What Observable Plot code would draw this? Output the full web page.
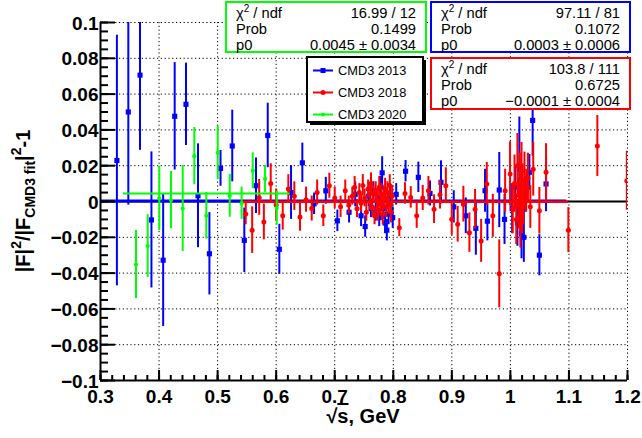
<!DOCTYPE html>
<html><head><meta charset="utf-8">
<script src="https://cdn.jsdelivr.net/npm/d3@7"></script>
<script src="https://cdn.jsdelivr.net/npm/@observablehq/plot@0.6"></script>
<style>body{margin:0;background:#fff;} svg{display:block}</style>
</head><body><div id="chart"></div>
<script>
// ---------------- data ----------------
const seriesNames = ["CMD3 2013", "CMD3 2018", "CMD3 2020"];
const seriesColors = ["#0000ff", "#ff0000", "#00ff00"];

const blueX = [0.328,0.3475,0.3675,0.387,0.407,0.4267,0.446,0.4665,0.486,0.505,0.525,0.5456,0.5656,0.5856,0.6054,0.6254,0.6447,0.6647,0.6848,0.7045,0.7245,
  0.735,0.745,0.752,0.758,0.762,0.766,0.770,0.773,0.776,0.779,0.781,0.783,0.786,0.789,0.792,0.795,0.799,0.805,
  0.821,0.8428,0.8627,0.8815,0.9033,0.9238,0.941,0.9567,0.9607,0.981,0.990,
  1.003,1.008,1.012,1.0153,1.017,1.019,1.021,1.023,1.025,1.0324,1.038,1.0495,1.0609];
const blueY = [0.0229,0.050,0.0706,-0.0103,-0.0328,0.0476,0.0543,0.0032,-0.0292,0.0185,0.031,-0.0217,0.0088,0.0369,-0.0267,0.005,0.0216,-0.0013,0.006,-0.0108,-0.006,
  0.004,-0.008,-0.014,0.003,-0.004,0.006,-0.006,0.002,-0.009,0.008,0.016,-0.004,-0.012,-0.016,-0.007,0.003,-0.009,0.004,
  0.0169,0.0135,0.0045,0.0107,-0.003,-0.008,-0.015,0.006,-0.011,0.0064,-0.010,
  -0.004,0.008,-0.012,0.0182,-0.006,-0.018,0.002,-0.020,0.004,0.0163,0.0453,-0.030,0.0098];
const blueErr = [0.070,0.052,0.042,0.038,0.037,0.030,0.023,0.029,0.023,0.010,0.020,0.018,0.0155,0.018,0.014,0.015,0.011,0.006,0.0075,0.006,0.006,
  0.007,0.006,0.006,0.006,0.005,0.005,0.005,0.005,0.005,0.006,0.009,0.006,0.006,0.006,0.006,0.006,0.006,0.006,
  0.006,0.0085,0.007,0.012,0.009,0.010,0.015,0.012,0.011,0.021,0.014,
  0.014,0.012,0.013,0.029,0.012,0.014,0.010,0.014,0.010,0.010,0.020,0.0115,0.0155];

const redX = [0.548,0.559,0.571,0.579,0.5907,0.600,0.6112,0.6208,0.631,0.6407,0.651,0.6607,0.670,0.6805,0.6908,0.700,0.710,0.718,0.724,0.730,
  0.734,0.738,0.742,0.745,0.748,0.751,0.754,0.757,0.760,0.762,0.764,0.766,0.768,0.770,0.772,0.774,0.776,0.778,0.780,0.782,0.784,0.786,0.788,0.790,0.792,0.794,0.796,0.798,
  0.8103,0.820,0.8298,0.840,0.8503,0.860,0.8696,0.8798,0.8898,0.8998,0.910,0.9197,0.930,0.9397,0.950,0.9597,0.970,0.981,0.991,0.9994,
  1.004,1.007,1.010,1.012,1.014,1.016,1.017,1.018,1.019,1.020,1.021,1.022,1.024,1.027,1.030,1.034,1.039,1.0495,1.0609,1.099,1.1485,1.1988];
const redY = [-0.007,-0.016,0.0023,-0.0114,0.0101,-0.002,-0.008,0.007,0.003,-0.0086,0.001,-0.0039,0.005,-0.008,0.0088,0.002,-0.003,0.006,-0.002,0.003,
  0.008,-0.004,0.005,-0.001,0.009,0.002,-0.006,0.007,0.000,0.010,-0.003,0.004,-0.008,0.006,0.001,-0.005,0.008,-0.002,0.004,-0.007,0.002,0.007,-0.003,0.005,-0.001,0.009,-0.006,0.003,
  -0.0146,0.0045,0.0023,-0.008,0.002,0.006,-0.0043,0.0038,0.0088,-0.0099,-0.0127,-0.0015,-0.0174,-0.0043,-0.022,0.0098,-0.008,-0.0404,0.006,0.0154,
  -0.004,0.010,-0.010,0.020,-0.002,0.012,-0.014,0.004,0.017,-0.008,0.009,-0.003,0.0116,0.006,0.013,-0.003,0.018,-0.0052,0.0163,-0.016,0.031,0.0116];
const redErr = [0.006,0.013,0.010,0.010,0.011,0.009,0.008,0.008,0.008,0.008,0.007,0.007,0.007,0.006,0.007,0.006,0.006,0.006,0.005,0.005,
  0.006,0.005,0.005,0.005,0.006,0.005,0.005,0.005,0.005,0.006,0.005,0.005,0.005,0.005,0.005,0.006,0.006,0.006,0.006,0.006,0.006,0.006,0.006,0.006,0.006,0.006,0.006,0.006,
  0.005,0.006,0.006,0.007,0.007,0.008,0.008,0.008,0.010,0.009,0.010,0.010,0.011,0.011,0.012,0.012,0.012,0.019,0.012,0.018,
  0.014,0.016,0.014,0.018,0.013,0.015,0.012,0.011,0.016,0.010,0.012,0.010,0.016,0.012,0.014,0.012,0.015,0.013,0.016,0.0126,0.017,0.0165];

const greenX = [0.3606,0.3806,0.4004,0.4204,0.4404,0.4602,0.4807,0.5002,0.5207,0.541,0.560,0.581,0.601];
const greenY = [-0.0352,-0.0249,0.0017,0.0008,-0.0039,0.0253,-0.008,0.0272,0.0032,-0.001,0.0172,0.0126,-0.0037];
const greenErr = [0.019,0.0175,0.018,0.016,0.024,0.016,0.013,0.015,0.012,0.009,0.010,0.0075,0.0095];

// constant fits (p0) and their ranges
const fitP0 = [0.0003, -0.0001, 0.0045];
const fitFrom = [0.3, 0.54, 0.339];
const fitTo = [1.096, 1.099, 0.624];

// fit statistics boxes
const statChi = ["97.11 / 81", "103.8 / 111", "16.99 / 12"];
const statProb = ["0.1072", "0.6725", "0.1499"];
const statP0 = ["0.0003 \u00b1 0.0006", "\u22120.0001 \u00b1 0.0004", "0.0045 \u00b1 0.0034"];

// axes
const xTicks = [0.3,0.4,0.5,0.6,0.7,0.8,0.9,1.0,1.1,1.2];
const xTickLabels = ["0.3","0.4","0.5","0.6","0.7","0.8","0.9","1","1.1","1.2"];
const xMinor = d3.range(0, 46).map(i => 0.3 + i*0.02);
const yTicks = [-0.1,-0.08,-0.06,-0.04,-0.02,0,0.02,0.04,0.06,0.08,0.1];
const yTickLabels = ["\u22120.1","\u22120.08","\u22120.06","\u22120.04","\u22120.02","0","0.02","0.04","0.06","0.08","0.1"];
const yMinor = d3.range(0, 41).map(i => -0.1 + i*0.005);
const xDomain = [0.3, 1.2], yDomain = [-0.1, 0.1];

// ---------------- build ----------------
const font = "'Liberation Sans', Arial, Helvetica, sans-serif";
const mk = (X, Y, E) => X.map((x, i) => ({x, y: Y[i], e: E[i]}));
const series = [mk(blueX, blueY, blueErr), mk(redX, redY, redErr), mk(greenX, greenY, greenErr)];
const fits = fitP0.map((p, i) => ({p, x1: fitFrom[i], x2: fitTo[i], c: seriesColors[i]}));
const symbols = ["square", "circle", "circle"];
const radii = [2.9, 2.5, 2.1];
const fitWidths = [3, 2.5, 2];

const seriesMarks = [];
[0, 1, 2].forEach(k => {
  seriesMarks.push(
    Plot.ruleX(series[k], {x: "x", y1: d => d.y - d.e, y2: d => d.y + d.e, stroke: seriesColors[k], strokeWidth: 2, clip: true}),
    Plot.ruleY([fits[k]], {y: "p", x1: "x1", x2: "x2", stroke: seriesColors[k], strokeWidth: fitWidths[k], clip: true}),
    Plot.dot(series[k], {x: "x", y: "y", symbol: symbols[k], r: radii[k], fill: seriesColors[k], stroke: "none", clip: true})
  );
});

const plot = Plot.plot({
  width: 642, height: 438,
  marginLeft: 100, marginRight: 15, marginTop: 22, marginBottom: 58,
  x: {domain: xDomain, axis: null},
  y: {domain: yDomain, axis: null},
  style: {background: "white", fontFamily: font, overflow: "visible"},
  marks: [
    Plot.ruleX(xTicks.slice(1), {x: d => d, stroke: "black", strokeWidth: 1, strokeDasharray: "1.2,2.6"}),
    Plot.ruleY(yTicks.slice(1), {y: d => d, stroke: "black", strokeWidth: 1, strokeDasharray: "1.2,2.6"}),
    Plot.ruleY([0], {y: d => d, stroke: "black", strokeWidth: 2}),
    ...seriesMarks,
    // axis lines
    Plot.ruleX([xDomain[0]], {x: d => d, stroke: "black", strokeWidth: 2}),
    Plot.ruleY([yDomain[0]], {y: d => d, stroke: "black", strokeWidth: 2}),
    // inward ticks
    Plot.ruleX(xTicks, {x: d => d, y1: () => yDomain[0], y2: () => yDomain[0], insetTop: 0, insetBottom: 10, stroke: "black", strokeWidth: 2}),
    Plot.ruleX(xMinor, {x: d => d, y1: () => yDomain[0], y2: () => yDomain[0], insetTop: 0, insetBottom: 5, stroke: "black", strokeWidth: 2}),
    Plot.ruleY(yTicks, {y: d => d, x1: () => xDomain[0], x2: () => xDomain[0], insetLeft: 0, insetRight: -15, stroke: "black", strokeWidth: 2}),
    Plot.ruleY(yMinor, {y: d => d, x1: () => xDomain[0], x2: () => xDomain[0], insetLeft: 0, insetRight: -8, stroke: "black", strokeWidth: 2}),
    // tick labels
    Plot.text(xTicks, {x: d => d, y: () => yDomain[0], text: (d, i) => xTickLabels[i], dy: 16, lineAnchor: "middle", fontSize: 19, fontWeight: "bold", fill: "black"}),
    Plot.text(yTicks, {x: () => xDomain[0], y: d => d, text: (d, i) => yTickLabels[i], dx: -2, dy: 1, textAnchor: "end", lineAnchor: "middle", fontSize: 19, fontWeight: "bold", fill: "black"})
  ]
});
document.getElementById("chart").appendChild(plot);

// ---------------- annotations (titles, stat boxes, legend) ----------------
const svg = d3.select(plot);

// x title
const xt = svg.append("text").attr("x", 363).attr("y", 423).attr("text-anchor", "middle")
  .attr("font-family", font).attr("font-size", 20).attr("font-weight", "bold");
xt.append("tspan").text("\u221a");
xt.append("tspan").attr("style", "text-decoration: overline").text("s");
xt.append("tspan").text(", GeV");

// y title (centred on the axis)
const yt = svg.append("text").attr("transform", "translate(30,201) rotate(-90)").attr("text-anchor", "middle")
  .attr("font-family", font).attr("font-size", 20).attr("font-weight", "bold");
yt.append("tspan").text("|F|");
yt.append("tspan").attr("font-size", 14).attr("dy", -9).text("2");
yt.append("tspan").attr("dy", 9).text("/|F");
yt.append("tspan").attr("font-size", 14).attr("dy", 5).text("CMD3 fit");
yt.append("tspan").attr("dy", -5).text("|");
yt.append("tspan").attr("font-size", 14).attr("dy", -9).text("2");
yt.append("tspan").attr("dy", 9).text("-1");

// stat boxes: [left, top, right, bottom, seriesIndex]
const boxes = [[226, 2, 426, 52, 2], [431, 2, 630, 52, 0], [431, 58, 630, 109, 1]];
boxes.forEach(([l, t, r, b, k]) => {
  const g = svg.append("g").attr("font-family", font).attr("font-size", 14.7).attr("fill", "black");
  g.append("rect").attr("x", l).attr("y", t).attr("width", r - l).attr("height", b - t)
    .attr("fill", "white").attr("stroke", seriesColors[k]).attr("stroke-width", 2);
  const rows = [statChi[k], statProb[k], statP0[k]];
  const base = [t + 16, t + 31.5, t + 48];
  const lab = g.append("text").attr("x", l + 10).attr("y", base[0]).attr("text-anchor", "start");
  lab.append("tspan").text("\u03c7");
  lab.append("tspan").attr("font-size", 10).attr("dy", -6).text("2");
  lab.append("tspan").attr("dy", 6).text(" / ndf");
  g.append("text").attr("x", l + 10).attr("y", base[1]).attr("text-anchor", "start").text("Prob");
  g.append("text").attr("x", l + 10).attr("y", base[2]).attr("text-anchor", "start").text("p0");
  rows.forEach((s, j) => g.append("text").attr("x", r - 10).attr("y", base[j]).attr("text-anchor", "end").text(s));
});

// legend
const lg = svg.append("g").attr("font-family", font).attr("font-size", 12.8);
lg.append("rect").attr("x", 310).attr("y", 60).attr("width", 116).attr("height", 65).attr("fill", "black");
lg.append("rect").attr("x", 307).attr("y", 57).attr("width", 116).attr("height", 65)
  .attr("fill", "white").attr("stroke", "black").attr("stroke-width", 2);
seriesNames.forEach((name, k) => {
  const yb = 75 + k * 22;
  lg.append("line").attr("x1", 313).attr("x2", 333).attr("y1", yb - 4.5).attr("y2", yb - 4.5)
    .attr("stroke", seriesColors[k]).attr("stroke-width", 2);
  if (k === 0) lg.append("rect").attr("x", 320.5).attr("y", yb - 7).attr("width", 5).attr("height", 5).attr("fill", seriesColors[k]);
  else lg.append("circle").attr("cx", 323).attr("cy", yb - 4.5).attr("r", k === 1 ? 2.5 : 2).attr("fill", seriesColors[k]);
  lg.append("text").attr("x", 338).attr("y", yb).attr("text-anchor", "start").text(name);
});
</script>
</body></html>
